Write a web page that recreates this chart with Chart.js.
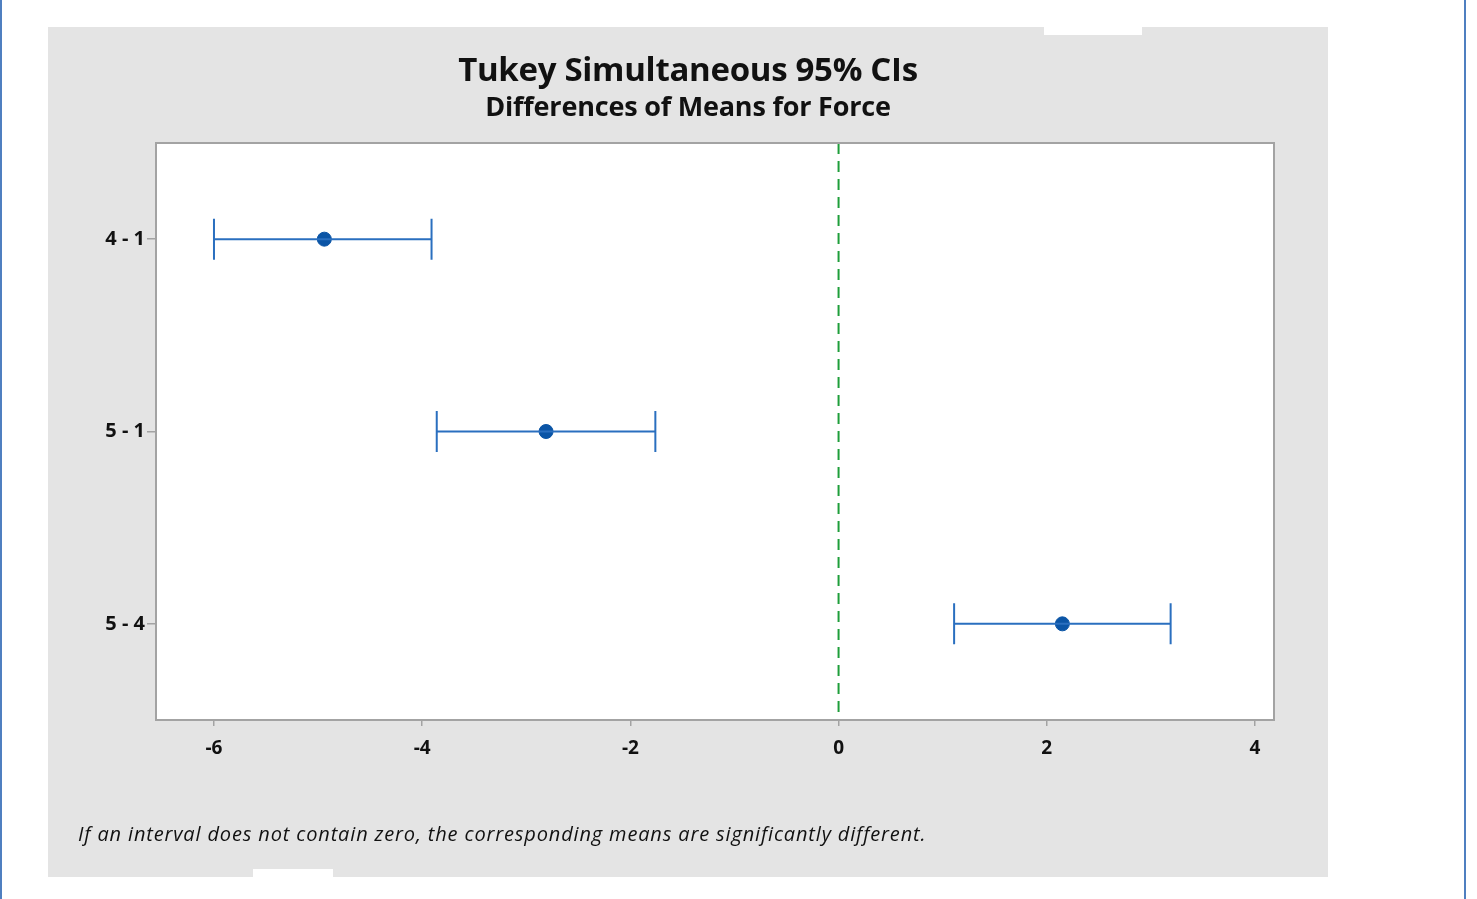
<!DOCTYPE html>
<html>
<head>
<meta charset="utf-8">
<script src="https://cdn.jsdelivr.net/npm/chart.js@4.4.1/dist/chart.umd.min.js"></script>
<style>
  html, body { margin: 0; padding: 0; background: #fff; }
  body { width: 1477px; height: 899px; position: relative; overflow: hidden; font-family: 'Open Sans', sans-serif; }
  .edge { position: absolute; top: 0; width: 2px; height: 899px; background: #4f7fc0; }
  #panel { position: absolute; left: 48px; top: 27px; width: 1280px; height: 850px; background: #e4e4e4; }
  #panel canvas { position: absolute; left: 0; top: 0; }
  .notch { position: absolute; background: #fff; }
  #titre { position: absolute; left: 0; width: 1280px; top: 19px; text-align: center; font-weight: 700; font-size: 33px; color: #111; letter-spacing: -0.3px; }
  #sousTitre { position: absolute; left: 0; width: 1280px; top: 60px; text-align: center; font-weight: 700; font-size: 27px; color: #111; letter-spacing: -0.2px; }
  #note { position: absolute; left: 30px; top: 793px; font-style: italic; font-size: 20px; color: #111; letter-spacing: 0.85px; }
</style>
</head>
<body>
<div class="edge" style="left:0"></div>
<div class="edge" style="left:1464px"></div>
<div id="panel">
  <canvas id="chartTukey" width="1280" height="850"></canvas>
  <div id="titre">Tukey Simultaneous 95% CIs</div>
  <div id="sousTitre">Differences of Means for Force</div>
  <div id="note">If an interval does not contain zero, the corresponding means are significantly different.</div>
</div>
<div class="notch" style="left:1044px; top:27px; width:98px; height:8px"></div>
<div class="notch" style="left:253px; top:869px; width:80px; height:8px"></div>

<script>
const comparacoes = ['4 - 1', '5 - 1', '5 - 4'];
const limiteInferior = [-6.00, -3.86, 1.11];
const medias = [-4.94, -2.81, 2.15];
const limiteSuperior = [-3.91, -1.76, 3.19];
const ticksX = [-6, -4, -2, 0, 2, 4];

const azulLinha = '#2a6fbf';
const azulPonto = '#0b55a6';

// one line dataset per interval, caps drawn as rotated 'line' points
const intervalos = comparacoes.map((c, i) => ({
    type: 'scatter',
    showLine: true,
    data: [{ x: limiteInferior[i], y: c }, { x: limiteSuperior[i], y: c }],
    borderColor: azulLinha,
    borderWidth: 2,
    pointStyle: 'line',
    pointRotation: 90,
    pointRadius: 20.5,
    pointHoverRadius: 20.5,
    pointBorderColor: azulLinha,
    pointBorderWidth: 2
}));

const pontosMedia = {
    type: 'scatter',
    data: comparacoes.map((c, i) => ({ x: medias[i], y: c })),
    pointStyle: 'circle',
    pointRadius: 7,
    pointHoverRadius: 7,
    backgroundColor: azulPonto,
    borderColor: azulPonto,
    borderWidth: 1
};

const fundoEBorda = {
    id: 'fundoEBorda',
    beforeDatasetsDraw(chart) {
        const { ctx, chartArea: a, scales } = chart;
        ctx.save();
        ctx.fillStyle = '#ffffff';
        ctx.fillRect(a.left, a.top, a.right - a.left, a.bottom - a.top);
        // reference line at zero
        const x0 = scales.x.getPixelForValue(0);
        ctx.strokeStyle = '#1e9e3a';
        ctx.lineWidth = 2;
        ctx.setLineDash([11, 7]);
        ctx.beginPath();
        ctx.moveTo(x0, a.top);
        ctx.lineTo(x0, a.bottom);
        ctx.stroke();
        ctx.restore();
    },
    afterDatasetsDraw(chart) {
        const { ctx, chartArea: a } = chart;
        ctx.save();
        ctx.strokeStyle = '#a3a3a3';
        ctx.lineWidth = 2;
        ctx.strokeRect(a.left, a.top, a.right - a.left, a.bottom - a.top);
        ctx.restore();
    }
};

const ctxTukey = document.getElementById('chartTukey').getContext('2d');

const chartTukey = new Chart(ctxTukey, {
    type: 'scatter',
    data: { labels: comparacoes, datasets: [...intervalos, pontosMedia] },
    options: {
        responsive: false,
        animation: false,
        layout: { padding: { top: 116, right: 54, left: 0, bottom: 0 } },
        plugins: { legend: { display: false }, tooltip: { enabled: false } },
        scales: {
            x: {
                type: 'linear',
                min: -6.557,
                max: 4.183,
                afterBuildTicks(scale) { scale.ticks = ticksX.map(v => ({ value: v })); },
                afterFit(scale) { scale.height = 157; },
                grid: { drawOnChartArea: false, drawTicks: true, tickLength: 6, color: '#a3a3a3', lineWidth: 1.5 },
                border: { display: false },
                ticks: { color: '#111', padding: 11, font: { family: 'Open Sans', size: 19, weight: 'bold' } }
            },
            y: {
                type: 'category',
                labels: comparacoes,
                offset: true,
                afterFit(scale) { scale.width = 108; },
                grid: { offset: false, drawOnChartArea: false, drawTicks: true, tickLength: 9, color: '#a3a3a3', lineWidth: 1.5 },
                border: { display: false },
                ticks: { color: '#111', padding: 2, font: { family: 'Open Sans', size: 20, weight: 'bold' } }
            }
        }
    },
    plugins: [fundoEBorda]
});
</script>
</body>
</html>
